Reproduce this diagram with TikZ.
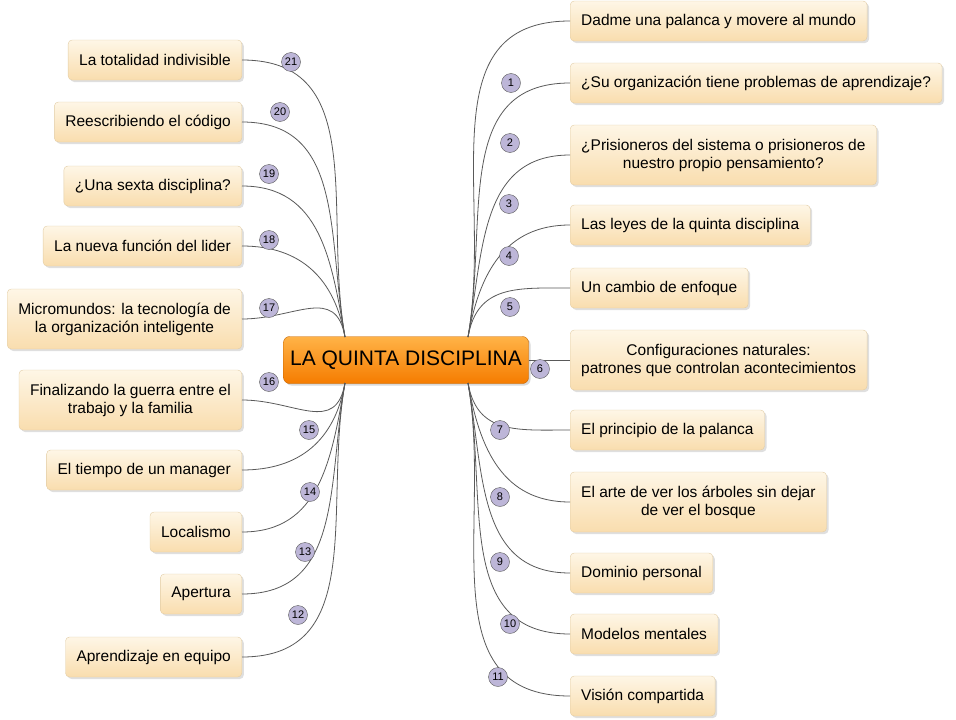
\documentclass[tikz,border=0pt]{standalone}
\usepackage{fontspec}
\setmainfont{Liberation Sans}
\usetikzlibrary{shadows}
\definecolor{boxtop}{HTML}{FEF6E6}
\definecolor{boxbot}{HTML}{F9DDAE}
\definecolor{boxline}{HTML}{E2CDA6}
\definecolor{badge}{HTML}{BDB6D8}
\definecolor{orangetop}{HTML}{FFB347}
\definecolor{orangebot}{HTML}{F57C00}
\begin{document}
\begin{tikzpicture}[x=1pt,y=-1pt,
  topic/.style = {draw=boxline, rounded corners=4pt, top color=boxtop, bottom color=boxbot,
    drop shadow={opacity=.25, shadow xshift=2pt, shadow yshift=-2pt},
    minimum height=40pt, inner xsep=11pt, align=center, font=\fontsize{15.5}{18}\selectfont},
  main/.style = {draw=orangebot!80!black, rounded corners=6pt, top color=orangetop, bottom color=orangebot,
    drop shadow={opacity=.3, shadow xshift=2pt, shadow yshift=-2pt},
    minimum width=245pt, minimum height=47pt, font=\fontsize{21}{24}\selectfont},
  num/.style = {circle, draw=gray!70!black, fill=badge, inner sep=0pt, minimum size=19pt,
    font=\fontsize{11}{12}\selectfont},
  link/.style = {draw=gray!70!black, thick}]
\useasboundingbox (0,0) rectangle (956,720);
\node[main] (cen) at (406,360) {LA QUINTA DISCIPLINA};
% right side
\node[topic, anchor=west] (r0) at (570,21) {Dadme una palanca y movere al mundo};
\node[topic, anchor=west] (r1) at (570,83) {¿Su organización tiene problemas de aprendizaje?};
\node[topic, anchor=west, minimum height=60pt] (r2) at (570,155) {¿Prisioneros del sistema o prisioneros de\\nuestro propio pensamiento?};
\node[topic, anchor=west] (r3) at (570,225) {Las leyes de la quinta disciplina};
\node[topic, anchor=west] (r4) at (570,288) {Un cambio de enfoque};
\node[topic, anchor=west, minimum height=60pt] (r5) at (570,360) {Configuraciones naturales:\\patrones que controlan acontecimientos};
\node[topic, anchor=west] (r6) at (570,430) {El principio de la palanca};
\node[topic, anchor=west, minimum height=60pt] (r7) at (570,502) {El arte de ver los árboles sin dejar\\de ver el bosque};
\node[topic, anchor=west] (r8) at (570,573) {Dominio personal};
\node[topic, anchor=west] (r9) at (570,634) {Modelos mentales};
\node[topic, anchor=west] (r10) at (570,696) {Visión compartida};
% left side
\node[topic, anchor=east] (l21) at (242,60) {La totalidad indivisible};
\node[topic, anchor=east] (l20) at (242,122) {Reescribiendo el código};
\node[topic, anchor=east] (l19) at (242,186) {¿Una sexta disciplina?};
\node[topic, anchor=east] (l18) at (242,246) {La nueva función del lider};
\node[topic, anchor=east, minimum height=60pt] (l17) at (242,319) {Micromundos: la tecnología de\\la organización inteligente};
\node[topic, anchor=east, minimum height=60pt] (l16) at (242,400) {Finalizando la guerra entre el\\trabajo y la familia};
\node[topic, anchor=east] (l15) at (242,470) {El tiempo de un manager};
\node[topic, anchor=east] (l14) at (242,532) {Localismo};
\node[topic, anchor=east] (l13) at (242,594) {Apertura};
\node[topic, anchor=east] (l12) at (242,657) {Aprendizaje en equipo};
% connectors
\coordinate (ru) at (468,337);
\coordinate (rd) at (468,383);
\coordinate (lu) at (345,337);
\coordinate (ld) at (345,383);
\foreach \n/\lo in {r0/1.1, r1/1.1, r2/1.1, r3/1.1, r4/1.2}
  \draw[link] (ru) to[out=80, in=180, looseness=\lo] (\n.west);
\draw[link] (cen.east) -- (r5.west);
\foreach \n/\lo in {r6/1.2, r7/1.1, r8/1.1, r9/1.1, r10/1.1}
  \draw[link] (rd) to[out=-80, in=180, looseness=\lo] (\n.west);
\foreach \n/\lo in {l21/1.1, l20/1.1, l19/1.1, l18/1.1, l17/1.3}
  \draw[link] (lu) to[out=100, in=0, looseness=\lo] (\n.east);
\foreach \n/\lo in {l16/1.3, l15/1.1, l14/1.1, l13/1.1, l12/1.1}
  \draw[link] (ld) to[out=-100, in=0, looseness=\lo] (\n.east);
% badges
\foreach \t/\x/\y in {1/511/83, 2/510/143, 3/509/204, 4/509/256, 5/510/307, 6/540/369,
  7/500/430, 8/500/497, 9/500/562, 10/510/624, 11/498/677,
  21/291/62, 20/280/112, 19/269/174, 18/269/240, 17/269/308, 16/269/382,
  15/309/430, 14/310/492, 13/305/552, 12/298/615}
  \node[num] (n\t) at (\x,\y) {\t};
\end{tikzpicture}
\end{document}
